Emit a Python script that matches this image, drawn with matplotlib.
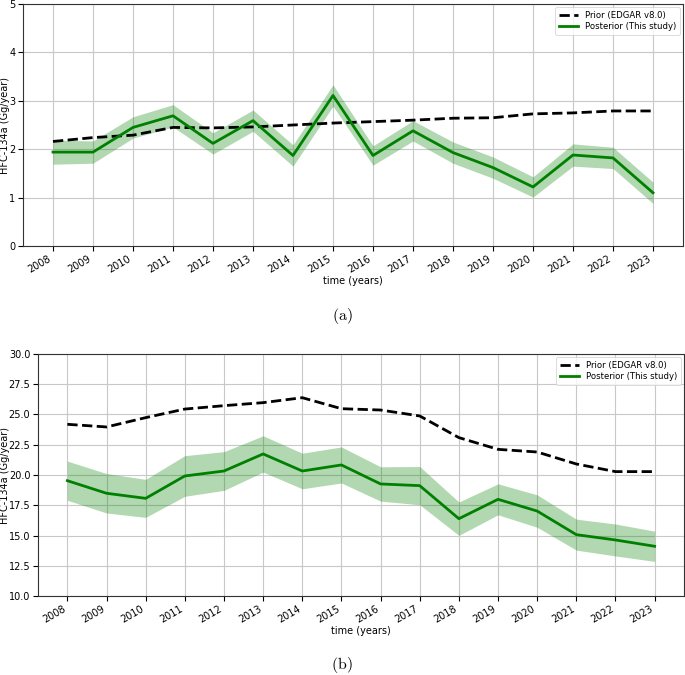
import matplotlib
matplotlib.use("Agg")
import matplotlib.pyplot as plt
import numpy as np

years = list(range(2008, 2024))

# Panel (a)
prior_a = [2.16, 2.24, 2.29, 2.45, 2.44, 2.46, 2.50, 2.54, 2.57, 2.60, 2.64, 2.65, 2.73, 2.75, 2.79, 2.79]
post_a = [1.94, 1.94, 2.45, 2.69, 2.12, 2.59, 1.87, 3.11, 1.87, 2.38, 1.93, 1.62, 1.22, 1.88, 1.82, 1.10]
unc_a = [0.25, 0.23, 0.22, 0.23, 0.22, 0.22, 0.22, 0.22, 0.20, 0.21, 0.22, 0.22, 0.21, 0.23, 0.22, 0.22]

# Panel (b)
prior_b = [24.19, 23.97, 24.74, 25.45, 25.73, 25.98, 26.39, 25.48, 25.37, 24.88, 23.09, 22.12, 21.90, 20.91, 20.28, 20.28]
post_b = [19.53, 18.49, 18.07, 19.92, 20.33, 21.74, 20.33, 20.83, 19.26, 19.12, 16.39, 17.99, 17.02, 15.07, 14.63, 14.11]
unc_b = [1.62, 1.63, 1.57, 1.68, 1.60, 1.50, 1.47, 1.49, 1.42, 1.58, 1.38, 1.28, 1.34, 1.28, 1.32, 1.25]

ylabel = "HFC-134a (Gg/year)"
xlabel = "time (years)"
legend_labels = ["Prior (EDGAR v8.0)", "Posterior (This study)"]
captions = ["(a)", "(b)"]

plt.rcParams['mathtext.fontset'] = 'cm'

fig = plt.figure(figsize=(6.85, 6.75), dpi=100)
W, H = 685, 675
def rect(l, t, r, b):
    return [l / W, 1 - b / H, (r - l) / W, (b - t) / H]

ax_a = fig.add_axes(rect(23, 4, 683, 246))
ax_b = fig.add_axes(rect(38, 354, 684, 596))

def draw(ax, prior, post, unc, ylim, yticks, fmt, left_px, width_px):
    x = np.array(years)
    p = np.array(post)
    u = np.array(unc)
    ax.fill_between(x, p - u, p + u, color='green', alpha=0.3, linewidth=0)
    ax.plot(x, prior, color='black', linestyle='--', linewidth=2, label=legend_labels[0], zorder=3)
    ax.plot(x, post, color='green', linewidth=2, label=legend_labels[1], zorder=3)
    ax.set_xlim(2007.25, 2023.75)
    ax.set_ylim(*ylim)
    ax.set_xticks(years)
    ax.set_xticklabels([str(y) for y in years], rotation=30, ha='right', fontsize=7)
    ax.set_yticks(yticks)
    ax.set_yticklabels([fmt.format(v) for v in yticks], fontsize=7)
    ax.tick_params(axis='both', length=3.5, width=0.8, pad=2)
    ax.grid(True, color='#c8c8c8', linewidth=0.8)
    ax.set_axisbelow(True)
    ax.set_xlabel(xlabel, fontsize=7, labelpad=1)
    ax.set_ylabel(ylabel, fontsize=7)
    ax.yaxis.set_label_coords((10.5 - left_px) / width_px, 0.5)
    for s in ax.spines.values():
        s.set_color('#333333')
        s.set_linewidth(0.8)
    leg = ax.legend(loc='upper right', fontsize=6.1, framealpha=0.8, borderpad=0.45,
                    handlelength=2.3, labelspacing=0.3, borderaxespad=0.35)
    leg.get_frame().set_linewidth(0.6)

draw(ax_a, prior_a, post_a, unc_a, (0, 5), [0, 1, 2, 3, 4, 5], "{:g}", 23, 660)
draw(ax_b, prior_b, post_b, unc_b, (10, 30), list(np.arange(10, 30.1, 2.5)), "{:.1f}", 38, 646)

fig.text(342 / W, 1 - 316 / H, r'$\mathrm{' + captions[0] + '}$', ha='center', va='center', fontsize=11.5)
fig.text(342 / W, 1 - 665 / H, r'$\mathrm{' + captions[1] + '}$', ha='center', va='center', fontsize=11.5)

fig.savefig("out.png", dpi=100)
